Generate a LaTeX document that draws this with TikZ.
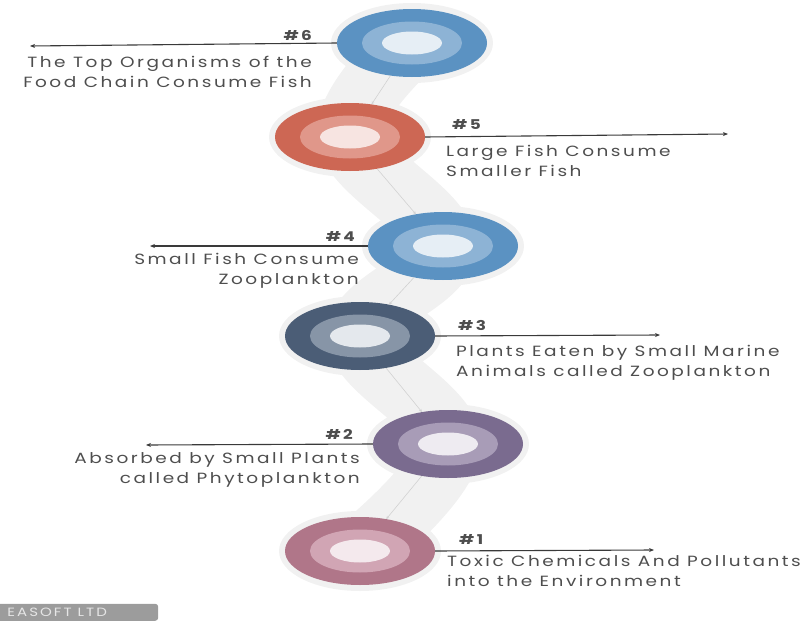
\documentclass[tikz,border=0pt]{standalone}
\usepackage{fontspec}
\setmainfont{Poppins}
\usetikzlibrary{shapes.geometric,arrows.meta}
\definecolor{ribbon}{HTML}{F1F1F1}
\definecolor{txtgray}{HTML}{4E4E4E}
\definecolor{leadgray}{HTML}{3A3A3A}
\definecolor{linkgray}{HTML}{D2D2D2}
\definecolor{blueA}{HTML}{5B92C2}\definecolor{blueB}{HTML}{8DB3D5}\definecolor{blueC}{HTML}{E6EEF5}
\definecolor{redA}{HTML}{CD6754}\definecolor{redB}{HTML}{E0978A}\definecolor{redC}{HTML}{F7E4E1}
\definecolor{slateA}{HTML}{4B5D76}\definecolor{slateB}{HTML}{8795A7}\definecolor{slateC}{HTML}{E4E8ED}
\definecolor{plumA}{HTML}{7A6B8F}\definecolor{plumB}{HTML}{A89CB7}\definecolor{plumC}{HTML}{EEEBF1}
\definecolor{roseA}{HTML}{B07689}\definecolor{roseB}{HTML}{D1A5B4}\definecolor{roseC}{HTML}{F4E9ED}
\definecolor{footgray}{HTML}{9C9C9C}
\newfontfamily\widefont[FakeStretch=1.25,LetterSpace=17]{Poppins}
\begin{document}
\begin{tikzpicture}[x=1pt,y=-1pt,
  ring/.style={ellipse, inner sep=0pt, minimum width=150pt, minimum height=68pt},
  midring/.style={ellipse, inner sep=0pt, minimum width=100pt, minimum height=43pt},
  core/.style={ellipse, inner sep=0pt, minimum width=60pt, minimum height=23pt},
  halo/.style={ellipse, inner sep=0pt, minimum width=162pt, minimum height=80pt, fill=ribbon},
  lead/.style={draw=leadgray, line width=1.1pt, -{Stealth[length=5pt,width=4pt]}},
  link/.style={draw=linkgray, line width=0.6pt, -{Stealth[length=3pt,width=3pt]}},
  num/.style={font=\widefont\bfseries\fontsize{13.5}{13.5}\selectfont, text=txtgray, inner sep=0pt},
  desc/.style={font=\widefont\fontsize{14.8}{20}\selectfont, text=txtgray, inner sep=0pt}]
\useasboundingbox (0,0) rectangle (807,621);
\coordinate (p6) at (412,43);
\coordinate (p5) at (350,137);
\coordinate (p4) at (443,246);
\coordinate (p3) at (360,336);
\coordinate (p2) at (448,444);
\coordinate (p1) at (360,551);
% grey band behind the rings
\draw[ribbon, line width=66pt, line cap=round, line join=round]
  plot[smooth, tension=0.6] coordinates {(p6) (p5) (p4) (p3) (p2) (p1)};
\foreach \k in {1,...,6} {\node[halo] (h\k) at (p\k) {};}
% rings
\node[ring, fill=blueA] (c6) at (p6) {};
\node[midring, fill=blueB] (m6) at (p6) {};
\node[core, fill=blueC] (i6) at (p6) {};
\node[ring, fill=redA] (c5) at (p5) {};
\node[midring, fill=redB] (m5) at (p5) {};
\node[core, fill=redC] (i5) at (p5) {};
\node[ring, fill=blueA] (c4) at (p4) {};
\node[midring, fill=blueB] (m4) at (p4) {};
\node[core, fill=blueC] (i4) at (p4) {};
\node[ring, fill=slateA] (c3) at (p3) {};
\node[midring, fill=slateB] (m3) at (p3) {};
\node[core, fill=slateC] (i3) at (p3) {};
\node[ring, fill=plumA] (c2) at (p2) {};
\node[midring, fill=plumB] (m2) at (p2) {};
\node[core, fill=plumC] (i2) at (p2) {};
\node[ring, fill=roseA] (c1) at (p1) {};
\node[midring, fill=roseB] (m1) at (p1) {};
\node[core, fill=roseC] (i1) at (p1) {};
\draw[link] (c6) -- (c5);
\draw[link] (c5) -- (c4);
\draw[link] (c4) -- (c3);
\draw[link] (c3) -- (c2);
\draw[link] (c2) -- (c1);
% leaders and labels
\coordinate (e6) at (30,46);
\coordinate (e5) at (728,134);
\coordinate (e4) at (150,246);
\coordinate (e3) at (660,335);
\coordinate (e2) at (146,445);
\coordinate (e1) at (654,550);
\draw[lead] (c6.west) -- (e6);
\draw[lead] (c5.east) -- (e5);
\draw[lead] (c4.west) -- (e4);
\draw[lead] (c3.east) -- (e3);
\draw[lead] (c2.west) -- (e2);
\draw[lead] (c1.east) -- (e1);
\node[num, anchor=base east] (n6) at (312,41) {\#6};
\node[num, anchor=base west] (n5) at (452,129) {\#5};
\node[num, anchor=base east] (n4) at (355,241) {\#4};
\node[num, anchor=base west] (n3) at (458,330) {\#3};
\node[num, anchor=base east] (n2) at (353,439) {\#2};
\node[num, anchor=base west] (n1) at (459,544) {\#1};
% base anchor sits on the last line
\node[desc, align=right, anchor=base east] (t6) at (312,87) {The Top Organisms of the\\Food Chain Consume Fish};
\node[desc, align=left, anchor=base west] (t5) at (446,176) {Large Fish Consume\\Smaller Fish};
\node[desc, align=right, anchor=base east] (t4) at (359,284) {Small Fish Consume\\Zooplankton};
\node[desc, align=left, anchor=base west] (t3) at (456,376) {Plants Eaten by Small Marine\\Animals called Zooplankton};
\node[desc, align=right, anchor=base east] (t2) at (360,483) {Absorbed by Small Plants\\called Phytoplankton};
\node[desc, align=left, anchor=base west] (t1) at (447,586) {Toxic Chemicals And Pollutants\\into the Environment};
% footer tag
\node[fill=footgray, rounded corners=3pt, anchor=south west, minimum width=162pt, minimum height=17pt,
  inner sep=0pt, text=white!75!footgray, font=\widefont\fontsize{12}{12}\selectfont,
  text depth=0pt] (tag) at (-4,621) {\hspace{-40pt}EASOFT LTD};
\end{tikzpicture}
\end{document}
